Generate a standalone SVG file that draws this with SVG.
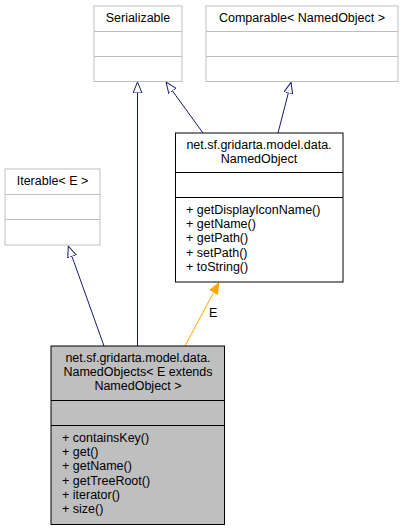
<svg xmlns="http://www.w3.org/2000/svg" width="403" height="531" viewBox="0 0 403 531">
<style>
text{font-family:"Liberation Sans",Arial,sans-serif;font-size:12.5px;fill:#000}
.c{text-anchor:middle}
.ext{fill:#fff;stroke:#bfbfbf;stroke-width:1}
.cls{fill:#fff;stroke:#000;stroke-width:1}
.cur{fill:#bfbfbf;stroke:#000;stroke-width:1}
.e{fill:none;stroke:#191970;stroke-width:1}
.t{fill:none;stroke:#ffa500;stroke-width:1}
</style>
<defs>
<marker id="inh" viewBox="0 0 12 10" refX="0" refY="5" markerWidth="12" markerHeight="10" markerUnits="userSpaceOnUse" orient="auto-start-reverse">
<path d="M11,5 L0,0.5 L0,9.5 Z" fill="#fff" stroke="#191970"/>
</marker>
<marker id="tpl" viewBox="0 0 12 10" refX="0" refY="5" markerWidth="12" markerHeight="10" markerUnits="userSpaceOnUse" orient="auto-start-reverse">
<path d="M11,5 L0,0.5 L0,9.5 Z" fill="#ffa500" stroke="#ffa500"/>
</marker>
</defs>
<g id="edges">
<path class="e" d="M137.5,346 L137.5,93" marker-end="url(#inh)"/>
<path class="e" d="M203,133 L172.5,91" marker-end="url(#inh)"/>
<path class="e" d="M278,133 L288.3,93" marker-end="url(#inh)"/>
<path class="e" d="M104,346 L72,256.5" marker-end="url(#inh)"/>
<path class="t" d="M185,346 L213.5,292.5" marker-end="url(#tpl)"/>
<text x="209" y="317">E</text>
</g>
<g id="Serializable">
<rect class="ext" x="94" y="6" width="88" height="75.5"/>
<line class="ext" x1="94" y1="31.5" x2="182" y2="31.5"/>
<line class="ext" x1="94" y1="56.5" x2="182" y2="56.5"/>
<text class="c" x="138" y="22">Serializable</text>
</g>
<g id="Comparable">
<rect class="ext" x="206" y="6" width="192" height="75.5"/>
<line class="ext" x1="206" y1="31.5" x2="398" y2="31.5"/>
<line class="ext" x1="206" y1="56.5" x2="398" y2="56.5"/>
<text class="c" x="302" y="22">Comparable&lt; NamedObject &gt;</text>
</g>
<g id="Iterable">
<rect class="ext" x="5" y="169" width="95" height="76"/>
<line class="ext" x1="5" y1="194.5" x2="100" y2="194.5"/>
<line class="ext" x1="5" y1="219.5" x2="100" y2="219.5"/>
<text class="c" x="52.5" y="185">Iterable&lt; E &gt;</text>
</g>
<g id="NamedObject">
<rect class="cls" x="175.5" y="133" width="167.5" height="149"/>
<line class="cls" x1="175.5" y1="172.5" x2="343" y2="172.5"/>
<line class="cls" x1="175.5" y1="197.5" x2="343" y2="197.5"/>
<text class="c" x="259" y="149">net.sf.gridarta.model.data.</text>
<text class="c" x="259" y="163">NamedObject</text>
<text x="186" y="214">+ getDisplayIconName()</text>
<text x="186" y="228">+ getName()</text>
<text x="186" y="242">+ getPath()</text>
<text x="186" y="257">+ setPath()</text>
<text x="186" y="271">+ toString()</text>
</g>
<g id="NamedObjects">
<rect class="cur" x="51" y="346" width="173.5" height="178.5"/>
<line class="cur" x1="51" y1="400.5" x2="224.5" y2="400.5"/>
<line class="cur" x1="51" y1="425.5" x2="224.5" y2="425.5"/>
<text class="c" x="138" y="362">net.sf.gridarta.model.data.</text>
<text class="c" x="138" y="376">NamedObjects&lt; E extends</text>
<text class="c" x="138" y="390">NamedObject &gt;</text>
<text x="62" y="442">+ containsKey()</text>
<text x="62" y="456">+ get()</text>
<text x="62" y="470">+ getName()</text>
<text x="62" y="485">+ getTreeRoot()</text>
<text x="62" y="499">+ iterator()</text>
<text x="62" y="513">+ size()</text>
</g>
</svg>
